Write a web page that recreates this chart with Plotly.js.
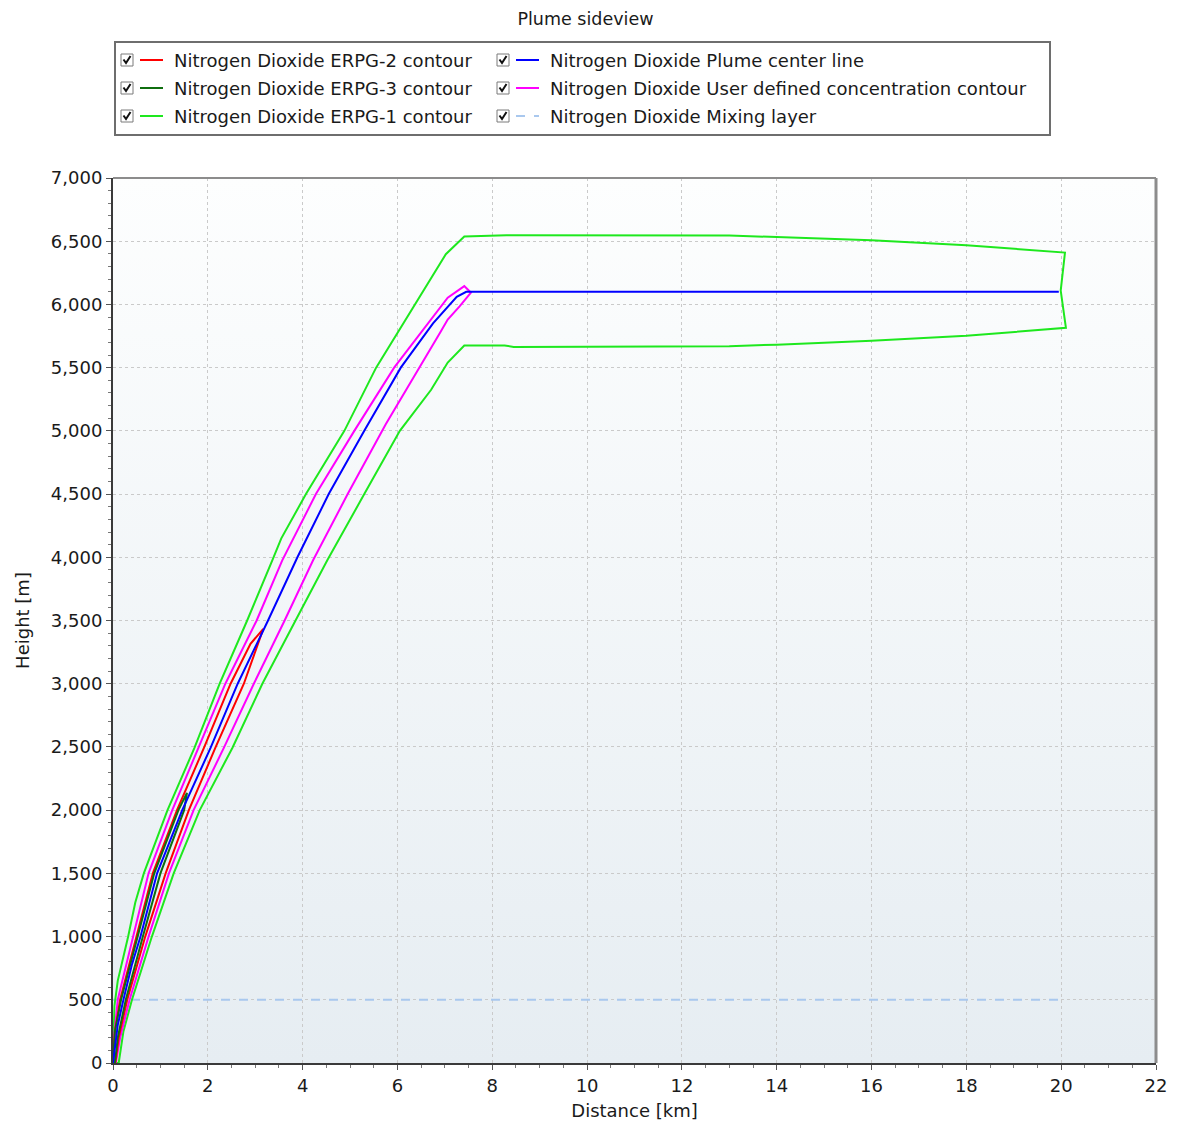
<!DOCTYPE html>
<html>
<head>
<meta charset="utf-8">
<script src="https://cdn.plot.ly/plotly-3.0.1.min.js"></script>
<style>html,body{margin:0;padding:0;background:#fff;}#chart{width:1178px;height:1124px;}</style>
</head>
<body>
<div id="chart"></div>
<script>
// ---------- DATA (distance km, height m) ----------
const centerX = [0, 0.03, 0.1, 0.22, 0.4, 0.58, 0.93, 1.46, 2.06, 2.63, 3.27, 3.89, 4.55, 5.30, 6.07, 6.75, 7.06, 7.25, 7.45, 19.95];
const centerY = [0, 100, 300, 500, 780, 1000, 1500, 2000, 2494, 3000, 3500, 4000, 4500, 5000, 5500, 5850, 5975, 6060, 6100, 6100];

const erpg1X = [0, 0.01, 0.03, 0.1, 0.2, 0.32, 0.47, 0.65, 1.15, 1.72, 2.25, 2.83, 3.36, 3.55, 4.07, 4.88, 5.55, 6.36, 7.02, 7.41, 8.3, 13.0, 14.0, 16.0, 18.0, 20.08,
                19.99, 20.1,
                18.0, 16.0, 14.0, 13.0, 8.45, 8.26, 7.41, 7.06, 6.71, 6.05, 5.30, 4.52, 3.85, 3.15, 2.52, 1.83, 1.28, 0.82, 0.40, 0.22, 0.12, 0];
const erpg1Y = [0, 200, 450, 650, 800, 1000, 1270, 1500, 2000, 2494, 3000, 3500, 3976, 4150, 4500, 5000, 5500, 6000, 6397, 6537, 6547, 6545, 6532, 6508, 6468, 6410,
                6110, 5815,
                5752, 5712, 5682, 5670, 5664, 5675, 5675, 5540, 5325, 5000, 4500, 3976, 3500, 3000, 2494, 2000, 1500, 1000, 500, 250, 0, 0];

const userX = [0, 0.02, 0.1, 0.42, 0.75, 1.25, 1.81, 2.37, 3.03, 3.57, 4.28, 5.09, 5.93, 7.06, 7.41, 7.55,
               7.31, 7.06, 6.92, 6.36, 5.75, 4.95, 4.22, 3.62, 2.97, 2.34, 1.70, 1.18, 0.75, 0.35, 0.15, 0.06, 0];
const userY = [0, 200, 500, 1000, 1500, 2000, 2494, 3000, 3500, 3976, 4500, 5000, 5500, 6053, 6145, 6093,
               5985, 5880, 5790, 5431, 5050, 4500, 3976, 3500, 3000, 2494, 2000, 1500, 1000, 500, 200, 0, 0];

const erpg2X = [0, 0.04, 0.15, 0.5, 0.84, 1.35, 1.92, 2.48, 2.90, 3.17,
                3.06, 2.76, 2.16, 1.60, 1.11, 0.68, 0.30, 0.12, 0.05, 0];
const erpg2Y = [0, 250, 500, 1000, 1500, 2000, 2494, 3000, 3315, 3434,
                3315, 3000, 2494, 2000, 1500, 1000, 500, 200, 0, 0];

const erpg3X = [0, 0.04, 0.17, 0.52, 0.87, 1.38, 1.56,
                1.50, 1.0, 0.63, 0.27, 0.1, 0.04, 0];
const erpg3Y = [0, 250, 500, 1000, 1500, 2000, 2137,
                2000, 1500, 1000, 500, 200, 0, 0];

const mixX = [0, 20.05];
const mixY = [500, 500];

const xTickVals = [0, 2, 4, 6, 8, 10, 12, 14, 16, 18, 20, 22];
const yTickVals = [0, 500, 1000, 1500, 2000, 2500, 3000, 3500, 4000, 4500, 5000, 5500, 6000, 6500, 7000];

const names = {
  e2: 'Nitrogen Dioxide ERPG-2 contour',
  e3: 'Nitrogen Dioxide ERPG-3 contour',
  e1: 'Nitrogen Dioxide ERPG-1 contour',
  cl: 'Nitrogen Dioxide Plume center line',
  ud: 'Nitrogen Dioxide User defined concentration contour',
  ml: 'Nitrogen Dioxide Mixing layer'
};

// ---------- STYLE ----------
const FONT = 'DejaVu Sans, Verdana, sans-serif';
const W = 1178, H = 1124, ML = 113, MR = 22, MT = 178, MB = 61;
const PW = W - ML - MR, PH = H - MT - MB;
const px2x = p => (p - ML) / PW;
const py2y = p => (H - MB - p) / PH;

const colors = {e2:'#ff0000', e3:'#0f6e0f', e1:'#1ee81e', cl:'#0000ff', ud:'#ff00ff', ml:'#a9c8ee'};

function line(x, y, key, dash) {
  return {x: x, y: y, type: 'scatter', mode: 'lines', name: names[key],
          line: {color: colors[key], width: 2, dash: dash || 'solid'},
          hoverinfo: 'skip', showlegend: false};
}

const traces = [
  line(mixX, mixY, 'ml', 'dash'),
  line(erpg1X, erpg1Y, 'e1'),
  line(userX, userY, 'ud'),
  line(erpg2X, erpg2Y, 'e2'),
  line(erpg3X, erpg3Y, 'e3'),
  line(centerX, centerY, 'cl')
];

// ---------- manual legend (two columns, three rows) ----------
const legendCols = [['e2', 'e3', 'e1'], ['cl', 'ud', 'ml']];
const colLeft = [121, 497];
const rowY = [60, 88, 116];
const shapes = [];
const annotations = [];

shapes.push({type:'rect', xref:'paper', yref:'paper', x0:px2x(115), x1:px2x(1050), y0:py2y(135), y1:py2y(42),
             line:{color:'#6e6e6e', width:2}, fillcolor:'rgba(255,255,255,0)'});
legendCols.forEach((col, ci) => {
  col.forEach((key, ri) => {
    const cx = colLeft[ci], cy = rowY[ri];
    shapes.push({type:'rect', xref:'paper', yref:'paper', x0:px2x(cx), x1:px2x(cx+12), y0:py2y(cy+6), y1:py2y(cy-6),
                 line:{color:'#7a7a7a', width:1}, fillcolor:'#ffffff'});
    shapes.push({type:'path', xref:'paper', yref:'paper',
                 path:'M ' + px2x(cx+2.5) + ' ' + py2y(cy-0.5) + ' L ' + px2x(cx+5) + ' ' + py2y(cy+3) + ' L ' + px2x(cx+9.5) + ' ' + py2y(cy-4),
                 line:{color:'#111111', width:2}});
    shapes.push({type:'line', xref:'paper', yref:'paper', x0:px2x(cx+19), x1:px2x(cx+42), y0:py2y(cy), y1:py2y(cy),
                 line:{color:colors[key], width:2, dash: key === 'ml' ? 'dash' : 'solid'}});
    annotations.push({xref:'paper', yref:'paper', x:px2x(cx+51), y:py2y(cy), xanchor:'left', yanchor:'middle',
                      text:names[key], showarrow:false, font:{family:FONT, size:18, color:'#1a1a1a'}});
  });
});

shapes.push({type:'line', xref:'paper', yref:'paper', x0:0, x1:1, y0:1, y1:1, line:{color:'#8c8c8c', width:2}});
shapes.push({type:'line', xref:'paper', yref:'paper', x0:1, x1:1, y0:0, y1:1, line:{color:'#8c8c8c', width:3}});

const grad = "<svg xmlns='http://www.w3.org/2000/svg' width='100' height='100' preserveAspectRatio='none'>" +
  "<defs><linearGradient id='g' x1='0' y1='0' x2='0' y2='1'><stop offset='0' stop-color='#fdfefe'/><stop offset='1' stop-color='#e6edf2'/></linearGradient></defs>" +
  "<rect width='100' height='100' fill='url(#g)'/></svg>";
const gradSrc = 'data:image/svg+xml;charset=utf-8,' + encodeURIComponent(grad);

const axisCommon = {
  showline: true, linecolor: '#3a3a3a', linewidth: 2, mirror: false,
  ticks: 'outside', ticklen: 5, tickcolor: '#555', tickwidth: 1,
  showgrid: true, gridcolor: '#cacaca', griddash: 'dot', gridwidth: 1,
  zeroline: false, tickfont: {family: FONT, size: 18, color: '#1a1a1a'}
};

const layout = {
  width: W, height: H,
  margin: {l: ML, r: MR, t: MT, b: MB, pad: 0},
  paper_bgcolor: '#ffffff',
  plot_bgcolor: 'rgba(0,0,0,0)',
  font: {family: FONT, color: '#1a1a1a'},
  title: {text: 'Plume sideview', font: {family: FONT, size: 17.5, color: '#1a1a1a'},
          xref: 'container', yref: 'container', x: 0.497, y: 1 - 19 / H, xanchor: 'center', yanchor: 'middle'},
  xaxis: Object.assign({}, axisCommon, {
    range: [0, 22], tickvals: xTickVals, ticktext: xTickVals.map(String),
    minor: {dtick: 0.5, ticks: 'outside', ticklen: 3, tickcolor: '#777', showgrid: false},
    title: {text: 'Distance [km]', standoff: 10, font: {family: FONT, size: 18, color: '#1a1a1a'}}
  }),
  yaxis: Object.assign({}, axisCommon, {
    range: [0, 7000], tickvals: yTickVals, tickformat: ',d',
    minor: {dtick: 100, ticks: 'outside', ticklen: 3, tickcolor: '#777', showgrid: false},
    title: {text: 'Height [m]', standoff: 17, font: {family: FONT, size: 18, color: '#1a1a1a'}}
  }),
  showlegend: false,
  shapes: shapes,
  annotations: annotations,
  images: [{source: gradSrc, xref: 'paper', yref: 'paper', x: 0, y: 1, sizex: 1, sizey: 1,
            xanchor: 'left', yanchor: 'top', sizing: 'stretch', layer: 'below'}]
};

Plotly.newPlot('chart', traces, layout, {displayModeBar: false, staticPlot: true});
</script>
</body>
</html>
